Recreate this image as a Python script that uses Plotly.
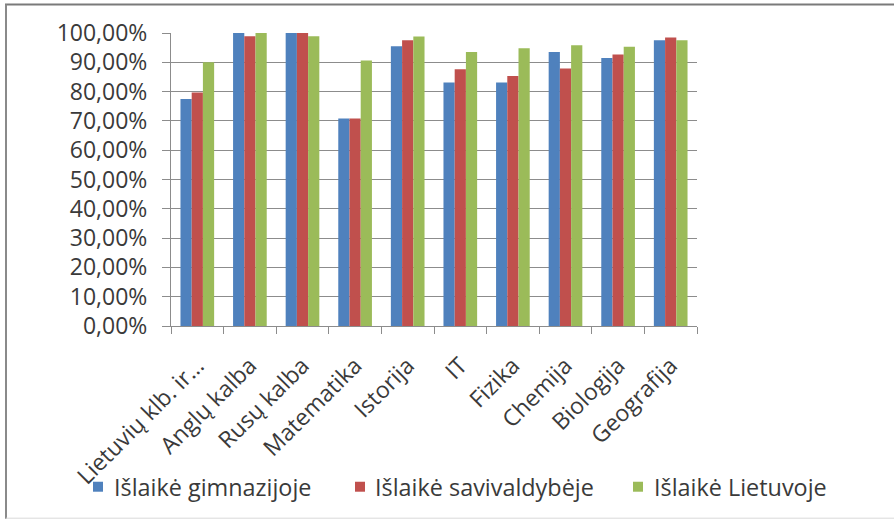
import plotly.graph_objects as go

categories = ["Lietuvių klb. ir…", "Anglų kalba", "Rusų kalba", "Matematika", "Istorija",
              "IT", "Fizika", "Chemija", "Biologija", "Geografija"]
gimnazija = [77.5, 100.0, 100.0, 70.8, 95.5, 83.1, 83.1, 93.5, 91.5, 97.5]
savivaldybe = [79.7, 98.9, 100.0, 70.8, 97.5, 87.6, 85.3, 87.9, 92.7, 98.5]
lietuva = [90.0, 100.0, 98.9, 90.6, 98.8, 93.5, 94.8, 95.8, 95.3, 97.5]
series_names = ["Išlaikė gimnazijoje", "Išlaikė savivaldybėje", "Išlaikė Lietuvoje"]
tick_vals = [0, 10, 20, 30, 40, 50, 60, 70, 80, 90, 100]
tick_text = [f"{v},00%" for v in tick_vals]

colors = ["#4F81BD", "#C0504D", "#9BBB59"]
FONT = "Open Sans, sans-serif"
TXT = "#3a3a3a"

fig = go.Figure()
for name, vals, c in zip(series_names, [gimnazija, savivaldybe, lietuva], colors):
    fig.add_trace(go.Bar(x=categories, y=vals, name=name, showlegend=False,
                         marker=dict(color=c, line=dict(width=0))))

W, H = 894, 522
L, R, T, B = 171, 697, 32.5, 326
PW, PH = R - L, B - T


def px_x(x):
    return (x - L) / PW


def px_y(y):
    return (B - y) / PH


fig.update_layout(
    width=W, height=H,
    margin=dict(l=L, r=W - R, t=T, b=H - B, pad=0, autoexpand=False),
    paper_bgcolor="white", plot_bgcolor="white",
    barmode="group", bargap=0.36, bargroupgap=0,
    font=dict(family=FONT, size=21, color=TXT),
    showlegend=False,
    xaxis=dict(type="category", tickangle=-45, showgrid=False, showline=True, automargin=False,
               linecolor="#8c8c8c", linewidth=1, ticks="outside", ticklen=7,
               tickcolor="#8c8c8c", tickson="boundaries", ticklabelstandoff=16,
               tickfont=dict(family=FONT, size=23, color=TXT)),
    yaxis=dict(range=[0, 100], tickvals=tick_vals, ticktext=tick_text, automargin=False,
               showgrid=True, gridcolor="#8c8c8c", gridwidth=1,
               showline=True, linecolor="#8c8c8c", linewidth=1,
               ticks="outside", ticklen=8, tickcolor="#8c8c8c", ticklabelstandoff=10,
               zeroline=False,
               tickfont=dict(family=FONT, size=23, color=TXT)),
)

# chart frame: dark top and left edges, faint bottom edge, right edge outside the picture
fig.add_shape(type="line", xref="paper", yref="paper",
              x0=px_x(5), x1=px_x(940), y0=px_y(4), y1=px_y(4),
              line=dict(color="#7a7a7a", width=2))
fig.add_shape(type="line", xref="paper", yref="paper",
              x0=px_x(6), x1=px_x(6), y0=px_y(4), y1=px_y(519),
              line=dict(color="#8a8a8a", width=2))
fig.add_shape(type="line", xref="paper", yref="paper",
              x0=px_x(6), x1=px_x(940), y0=px_y(518.5), y1=px_y(518.5),
              line=dict(color="#d9d9d9", width=1))

# legend (manual, positioned like the original)
sq_x = [93, 355, 633]
txt_x = [112, 373, 652]
LEG_Y = 487
for name, c, sx, tx in zip(series_names, colors, sq_x, txt_x):
    fig.add_shape(type="rect", xref="paper", yref="paper",
                  x0=px_x(sx), x1=px_x(sx + 10), y0=px_y(LEG_Y + 5), y1=px_y(LEG_Y - 5),
                  line=dict(width=0), fillcolor=c)
    fig.add_annotation(xref="paper", yref="paper", x=px_x(tx), y=px_y(LEG_Y),
                       xanchor="left", yanchor="middle", text=name, showarrow=False,
                       font=dict(family=FONT, size=23.4, color=TXT))

fig.write_html("out.html", config={"displayModeBar": False},
               post_script="document.body.style.margin='0';document.body.style.overflow='hidden';")
